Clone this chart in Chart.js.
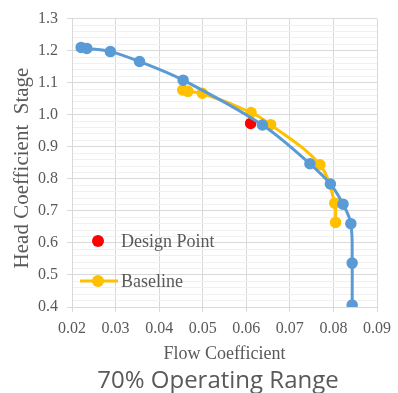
<!DOCTYPE html>
<html>
<head>
    <title>70% Operating Range</title>
    <script src="https://cdn.jsdelivr.net/npm/chart.js"></script>
    <style>
        body { margin: 0; background: #ffffff; }
    </style>
</head>
<body>
    <canvas id="rangeChart" width="398" height="393"></canvas>

    <script>
        // values
        var blueFlow = [0.0221, 0.0234, 0.0288, 0.0355, 0.0455, 0.0637, 0.0746, 0.0793, 0.0822, 0.0840, 0.0843, 0.0843];
        var blueHead = [1.210, 1.207, 1.197, 1.166, 1.108, 0.968, 0.847, 0.784, 0.721, 0.660, 0.537, 0.406];
        var baseFlow = [0.0454, 0.0466, 0.0499, 0.0611, 0.0656, 0.0769, 0.0803, 0.0805];
        var baseHead = [1.077, 1.073, 1.067, 1.007, 0.969, 0.844, 0.724, 0.664];
        var designFlow = [0.0610];
        var designHead = [0.973];

        var chartTitle = '70% Operating Range';
        var xTitle = 'Flow Coefficient';
        var yTitle = 'Head Coefficient  Stage';

        var grey = '#595959';
        var serif = '"Liberation Serif", "Times New Roman", serif';

        function pts(xs, ys) {
            return xs.map(function (x, i) { return { x: x, y: ys[i] }; });
        }

        function isMajor(v) {
            return Math.abs(v * 10 - Math.round(v * 10)) < 1e-6;
        }

        // legend inside the plot, rotated y title and bottom title
        var textPlugin = {
            id: 'textPlugin',
            afterDraw: function (chart) {
                var ctx = chart.ctx;
                ctx.save();
                var items = [chart.data.datasets[2], chart.data.datasets[1]];
                var rowY = [241, 281];
                items.forEach(function (ds, i) {
                    var y = rowY[i];
                    if (ds.showLine) {
                        ctx.strokeStyle = ds.borderColor;
                        ctx.lineWidth = 3;
                        ctx.beginPath();
                        ctx.moveTo(80, y);
                        ctx.lineTo(118, y);
                        ctx.stroke();
                    }
                    ctx.fillStyle = ds.pointBackgroundColor;
                    ctx.beginPath();
                    ctx.arc(98, y, 6, 0, Math.PI * 2);
                    ctx.fill();
                    ctx.fillStyle = grey;
                    ctx.font = '18px ' + serif;
                    ctx.textAlign = 'left';
                    ctx.textBaseline = 'alphabetic';
                    ctx.fillText(ds.label, 121, y + 6);
                });

                ctx.save();
                ctx.translate(28, 168);
                ctx.rotate(-Math.PI / 2);
                ctx.textAlign = 'center';
                ctx.font = '21px ' + serif;
                ctx.fillText(yTitle, 0, 0);
                ctx.restore();

                ctx.textAlign = 'center';
                ctx.font = '24px "Open Sans"';
                ctx.fillText(chartTitle, 218, 388);
                ctx.restore();
            }
        };

        var ctx = document.getElementById('rangeChart').getContext('2d');
        var rangeChart = new Chart(ctx, {
            type: 'scatter',
            data: {
                datasets: [{
                    label: 'Modified',
                    data: pts(blueFlow, blueHead),
                    showLine: true,
                    borderColor: '#5b9bd5',
                    backgroundColor: '#5b9bd5',
                    pointBackgroundColor: '#5b9bd5',
                    pointBorderColor: '#5b9bd5',
                    borderWidth: 3,
                    pointRadius: 5,
                    pointBorderWidth: 1.5,
                    tension: 0.35
                }, {
                    label: 'Baseline',
                    data: pts(baseFlow, baseHead),
                    showLine: true,
                    borderColor: '#ffc000',
                    backgroundColor: '#ffc000',
                    pointBackgroundColor: '#ffc000',
                    pointBorderColor: '#ffc000',
                    borderWidth: 3,
                    pointRadius: 5,
                    pointBorderWidth: 1.5,
                    tension: 0.35
                }, {
                    label: 'Design Point',
                    data: pts(designFlow, designHead),
                    showLine: false,
                    backgroundColor: '#ff0000',
                    pointBackgroundColor: '#ff0000',
                    pointBorderColor: '#ff0000',
                    pointRadius: 5,
                    pointBorderWidth: 1.5
                }]
            },
            options: {
                responsive: false,
                animation: false,
                layout: { padding: { left: 0, right: 19, top: 14, bottom: 28 } },
                plugins: {
                    legend: { display: false },
                    tooltip: { enabled: false }
                },
                scales: {
                    x: {
                        type: 'linear',
                        min: 0.02,
                        max: 0.09,
                        afterFit: function (s) { s.height = 58; },
                        ticks: {
                            stepSize: 0.01,
                            padding: 7,
                            color: grey,
                            font: { family: serif, size: 16 },
                            callback: function (v) { return v.toFixed(2); }
                        },
                        grid: { color: '#d9d9d9', tickLength: 5 },
                        border: { color: '#d9d9d9' },
                        title: {
                            display: true,
                            text: xTitle,
                            color: grey,
                            font: { family: serif, size: 18 },
                            padding: { top: 0, bottom: 0 }
                        }
                    },
                    y: {
                        min: 0.4,
                        max: 1.3,
                        afterFit: function (s) { s.width = 72; },
                        ticks: {
                            stepSize: 0.02,
                            autoSkip: false,
                            maxTicksLimit: 100,
                            padding: 9,
                            color: grey,
                            font: { family: serif, size: 16 },
                            callback: function (v) { return isMajor(v) ? v.toFixed(1) : ''; }
                        },
                        grid: {
                            tickLength: 5,
                            color: function (c) {
                                return c.tick && isMajor(c.tick.value) ? '#d9d9d9' : '#f0f0f0';
                            },
                            tickColor: function (c) {
                                return c.tick && isMajor(c.tick.value) ? '#d9d9d9' : 'rgba(0,0,0,0)';
                            }
                        },
                        border: { color: '#d9d9d9' }
                    }
                }
            },
            plugins: [textPlugin]
        });
    </script>
</body>
</html>
